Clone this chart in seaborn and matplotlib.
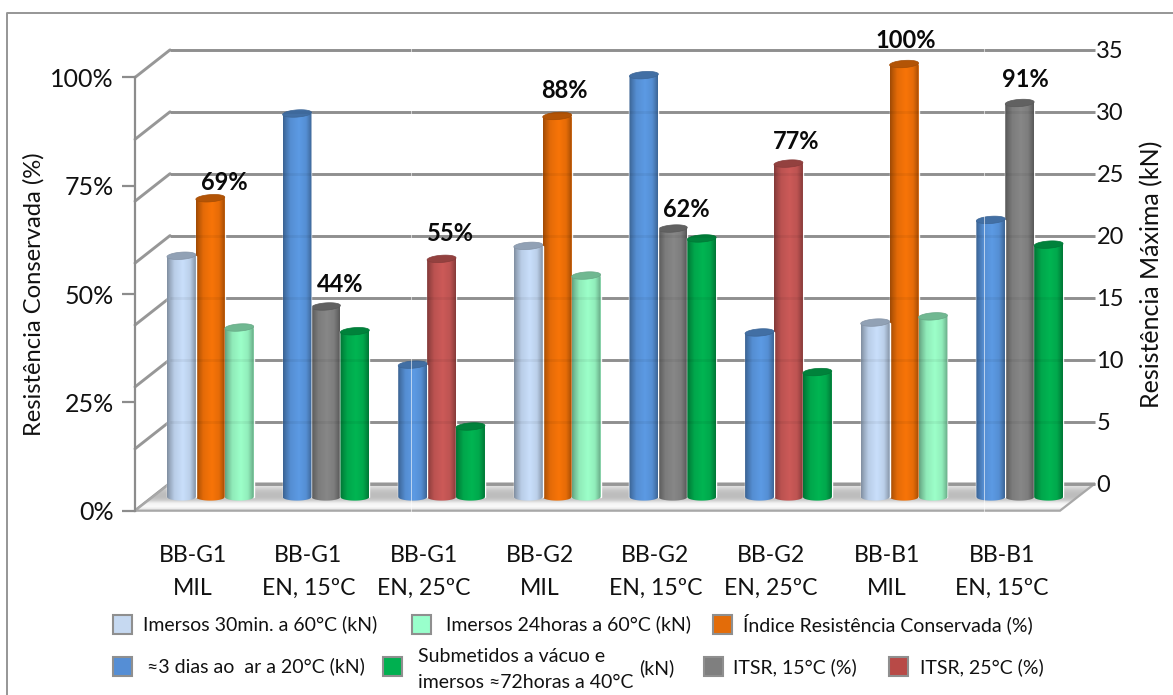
import numpy as np
import pandas as pd
import matplotlib
matplotlib.use("Agg")
import matplotlib.pyplot as plt
from matplotlib.patches import Polygon, Rectangle, PathPatch
from matplotlib.path import Path
from matplotlib.colors import to_rgb
import seaborn as sns

# ---- chart values ----
grupos = ["BB-G1\nMIL", "BB-G1\nEN, 15ºC", "BB-G1\nEN, 25ºC", "BB-G2\nMIL",
          "BB-G2\nEN, 15ºC", "BB-G2\nEN, 25ºC", "BB-B1\nMIL", "BB-B1\nEN, 15ºC"]

imersos_30min = [19.5, 20.3, 14.1]
imersos_24h = [13.7, 17.9, 14.6]
grupos_mil = [0, 3, 6]
indice_rc = [69, 88, 100]

ar_3dias = [31.0, 10.7, 34.1, 13.3, 22.4]
vacuo_72h = [13.4, 5.7, 20.9, 10.1, 20.4]
grupos_en = [1, 2, 4, 5, 7]

itsr_15 = [44, 62, 91]
grupos_15 = [1, 4, 7]
itsr_25 = [55, 77]
grupos_25 = [2, 5]

ticks_pct = [0, 25, 50, 75, 100]
ticks_kn = [0, 5, 10, 15, 20, 25, 30, 35]

nome_30min = "Imersos 30min. a 60°C (kN)"
nome_24h = "Imersos 24horas a 60°C (kN)"
nome_rc = "Índice Resistência Conservada (%)"
nome_ar = "≈3 dias ao  ar a 20°C (kN)"
nome_itsr15 = "ITSR, 15°C (%)"
nome_itsr25 = "ITSR, 25°C (%)"

COR_30MIN, COR_24H, COR_RC = "#C9DFFB", "#9CFFC9", "#F87408"
COR_AR, COR_VAC, COR_15, COR_25 = "#5C9AE4", "#00B552", "#878787", "#CC5A58"

W, H = 1173, 695
sns.set_theme(style="white")
plt.rcParams["font.family"] = ["Lato", "DejaVu Sans"]
TXT = "#111111"
LINHA = "#979797"

fig = plt.figure(figsize=(W / 100, H / 100), dpi=100, facecolor="white")


def caixa(x0, x1, y_topo, y_base, **kw):
    """Axes placed from pixel edges measured from the top-left corner."""
    return fig.add_axes([x0 / W, 1 - y_base / H, (x1 - x0) / W, (y_base - y_topo) / H], **kw)


# page layer in pixel units: border, walls, floor, legend
pagina = caixa(0, W, 0, H, zorder=0)
pagina.set_xlim(0, W)
pagina.set_ylim(H, 0)
pagina.axis("off")

pagina.plot([7, 7, W], [H, 13, 13], color="#969696", lw=1.4, solid_capstyle="butt")

# floor of the 3D box, fading to a pale front edge
chao = Polygon([(135, 510.7), (170, 483.5), (1095, 483.5), (1060, 510.7)], closed=True,
               fc="none", ec="#A8A8A8", lw=1.6, zorder=3)
pagina.add_patch(chao)
fade = np.array([0.92, 0.84, 0.77, 0.74, 0.74, 0.80, 0.95, 0.98, 0.90])[:, None]
img = pagina.imshow(fade, cmap="gray", vmin=0, vmax=1, extent=(135, 1095, 511, 483),
                    aspect="auto", zorder=2, interpolation="bilinear")
img.set_clip_path(chao)
pagina.set_xlim(0, W)
pagina.set_ylim(H, 0)

# diagonal wall lines linking the front scale to the back grid
for i in range(len(ticks_kn)):
    y = 510.7 - i * 61.9
    pagina.plot([135, 170], [y, y - 27.5], color=LINHA, lw=2.1, zorder=1,
                solid_capstyle="round")

# back wall: kN scale and grid
fundo = caixa(170, 1095, 49.5, 483.5, zorder=1)
fundo.patch.set_visible(False)
fundo.set_xlim(0, 1)
fundo.set_ylim(0, 35)
fundo.set_xticks([])
fundo.set_yticks(ticks_kn)
fundo.yaxis.tick_right()
fundo.tick_params(axis="y", length=0, pad=1, labelsize=17, labelcolor=TXT)
fundo.hlines(ticks_kn, 0, 1, color=LINHA, lw=2.1, clip_on=False)
fundo.yaxis.set_label_position("right")
fundo.set_ylabel("Resistência Máxima (kN)", fontsize=18, color=TXT, rotation=90)
fundo.yaxis.set_label_coords(1.0486, 0.483)
sns.despine(ax=fundo, left=True, bottom=True, right=True, top=True)

# front-left scale in percent and the category labels
frente = caixa(135, 1060, 77.5, 510.7, zorder=1)
frente.patch.set_visible(False)
frente.set_xlim(-0.5, 7.5)
frente.set_ylim(0, 100)
frente.set_yticks(ticks_pct)
frente.set_yticklabels([f"{t}%" for t in ticks_pct])
frente.set_xticks(range(len(grupos)))
frente.set_xticklabels(grupos, linespacing=1.72)
frente.tick_params(axis="y", length=9.4, width=1.6, color="#8C8C8C", pad=5.8,
                   labelsize=18, labelcolor=TXT, left=True)
frente.tick_params(axis="x", length=0, pad=24.5, labelsize=16.6, labelcolor=TXT)
frente.set_ylabel("Resistência Conservada (%)", fontsize=17.1, color=TXT)
frente.yaxis.set_label_coords(-0.0975, 0.5)
for lado in ("top", "right", "bottom"):
    frente.spines[lado].set_visible(False)
frente.spines["left"].set_color("#8C8C8C")
frente.spines["left"].set_linewidth(1.6)

# mid-depth plane carrying the columns: percent on one scale, kN on its twin;
# the plane has a margin of 8 px above and below so the round caps are not cut
PLANO_PX = 433.0
MARGEM_PX = 8.0
plano_pct = caixa(152.5, 1077.5, 64 - MARGEM_PX, 497 + MARGEM_PX, zorder=2)
plano_pct.patch.set_visible(False)
plano_kn = caixa(152.5, 1077.5, 64 - MARGEM_PX, 497 + MARGEM_PX, zorder=3)
plano_kn.patch.set_visible(False)

POSICOES = ["esq", "centro", "dir"]


def colunas(ax, indices, valores, posicao, cor):
    """One series of columns, dodged into its slot of each category."""
    dados = pd.DataFrame({"grupo": [grupos[i] for i in indices],
                          "valor": valores, "posicao": posicao})
    sns.barplot(data=dados, x="grupo", y="valor", hue="posicao", order=grupos,
                hue_order=POSICOES, palette={p: cor for p in POSICOES}, width=0.75,
                gap=0, dodge=True, saturation=1, errorbar=None, legend=False, ax=ax)


colunas(plano_kn, grupos_mil, imersos_30min, "esq", COR_30MIN)
colunas(plano_kn, grupos_mil, imersos_24h, "dir", COR_24H)
colunas(plano_kn, grupos_en, ar_3dias, "esq", COR_AR)
colunas(plano_kn, grupos_en, vacuo_72h, "dir", COR_VAC)
colunas(plano_pct, grupos_mil, indice_rc, "centro", COR_RC)
colunas(plano_pct, grupos_15, itsr_15, "centro", COR_15)
colunas(plano_pct, grupos_25, itsr_25, "centro", COR_25)


def enquadra(ax, topo):
    margem = MARGEM_PX * topo / PLANO_PX
    ax.set_xlim(-0.5, 7.5)
    ax.set_ylim(-margem, topo + margem)


ESCALAS = ((plano_pct, 100), (plano_kn, 35))
for ax, topo in ESCALAS:
    enquadra(ax, topo)
    ax.axis("off")

# shading across a column: dark rims, bright just right of centre
PERFIL_X = np.linspace(0, 1, 64)
PERFIL = np.interp(PERFIL_X, [0, 0.08, 0.25, 0.55, 0.8, 0.93, 1],
                   [0.64, 0.74, 0.92, 1.0, 0.93, 0.76, 0.66])


def cilindro(ax, topo, barra):
    """Turn a flat bar into a shaded cylinder with elliptical caps."""
    x0, w, h = barra.get_x(), barra.get_width(), barra.get_height()
    if not h or np.isnan(h):
        return
    base = np.array(to_rgb(barra.get_facecolor()))
    px_y = topo / PLANO_PX
    ry, tilt = 3.6 * px_y, 1.0 * px_y
    cx, rx = x0 + w / 2, w / 2
    t = np.linspace(0, np.pi, 40)
    # body outline: left to right along the top, back along the lower rim
    sup_x = cx - rx * np.cos(t)
    sup_y = np.full_like(t, h) - tilt * np.cos(t)
    inf_x = cx + rx * np.cos(t)
    inf_y = -ry * np.sin(t)
    contorno = Path(np.column_stack([np.r_[sup_x, inf_x, sup_x[0]],
                                     np.r_[sup_y, inf_y, sup_y[0]]]))
    forma = PathPatch(contorno, transform=ax.transData, fc="none", ec="none")
    ax.add_patch(forma)
    rgb = np.clip(base[None, None, :] * PERFIL[None, :, None], 0, 1)
    im = ax.imshow(rgb, extent=(x0, x0 + w, -ry, h + ry), aspect="auto", zorder=4,
                   interpolation="bilinear")
    im.set_clip_path(forma)
    # top cap, darker than the body and tilted slightly upwards to the right
    ang = np.linspace(0, 2 * np.pi, 60)
    tampa = np.column_stack([cx + rx * np.cos(ang),
                             h + ry * np.sin(ang) + tilt * np.cos(ang)])
    ax.add_patch(Polygon(tampa, closed=True, fc=base * 0.72, ec=base * 0.66, lw=0.5, zorder=5))
    barra.set_zorder(1)


for ax, topo in ESCALAS:
    for barra in list(ax.patches):
        cilindro(ax, topo, barra)
    enquadra(ax, topo)

# grid faintly visible through the columns
veu = caixa(170, 1095, 49.5, 483.5, zorder=4)
veu.patch.set_visible(False)
veu.set_xlim(0, 1)
veu.set_ylim(0, 35)
veu.axis("off")
veu.hlines(ticks_kn[1:], 0, 1, color="#000000", alpha=0.05, lw=2.1, clip_on=False)

# percentage labels above the middle columns, nudged off the caps
rotulos = caixa(152.5, 1077.5, 64, 497, zorder=5)
rotulos.patch.set_visible(False)
rotulos.set_xlim(-0.5, 7.5)
rotulos.set_ylim(0, 100)
rotulos.axis("off")
AJUSTE = {0: (14, 16), 1: (14, 22), 2: (9, 25), 3: (7, 25), 4: (14, 19), 5: (8, 22), 6: (2, 23), 7: (6, 23)}
rot_indices = grupos_mil + grupos_15 + grupos_25
rot_valores = indice_rc + itsr_15 + itsr_25
for i, v in zip(rot_indices, rot_valores):
    dx, dy = AJUSTE[i]
    rotulos.annotate(f"{v}%", (i, v), xytext=(dx, dy), textcoords="offset pixels",
                     ha="center", va="center", fontsize=17, fontweight="bold",
                     color="#0A0A0A", annotation_clip=False)

# thin pale seams crossing the plot area
for x in (411, 984):
    fig.add_artist(plt.Line2D([x / W, x / W], [1 - 515 / H, 1 - 45 / H],
                              color="white", lw=0.7, alpha=0.6, zorder=6))


# legend swatches and their captions
def amostra(x, yc, cor, borda="#8F8F8F"):
    pagina.add_patch(Rectangle((x, yc - 9.5), 19, 19, fc=cor, ec=borda, lw=1.5, zorder=3))


def legenda(x, yc, texto):
    pagina.text(x, yc, texto, ha="left", va="center", fontsize=14, color=TXT,
                linespacing=1.1)


R1, R2 = 624, 666
amostra(113, R1, "#C6D9F1")
legenda(143, R1, nome_30min)
amostra(412, R1, "#99FFCC")
legenda(446, R1, nome_24h)
amostra(713, R1, "#E36C09")
legenda(743, R1, nome_rc)
amostra(113, R2, "#558ED5")
legenda(147, R2, nome_ar)
amostra(383, R2, "#00B050")
legenda(418, R2 - 9, "Submetidos a vácuo e")
legenda(418, R2 + 17, "imersos ≈72horas a 40°C")
legenda(639, R2 + 2, "(kN)")
amostra(704, R2, "#7F7F7F")
legenda(733, R2 + 1, nome_itsr15)
amostra(889, R2, "#B84A47")
legenda(920, R2 + 1, nome_itsr25)

fig.savefig("out.png", dpi=100, facecolor="white")
